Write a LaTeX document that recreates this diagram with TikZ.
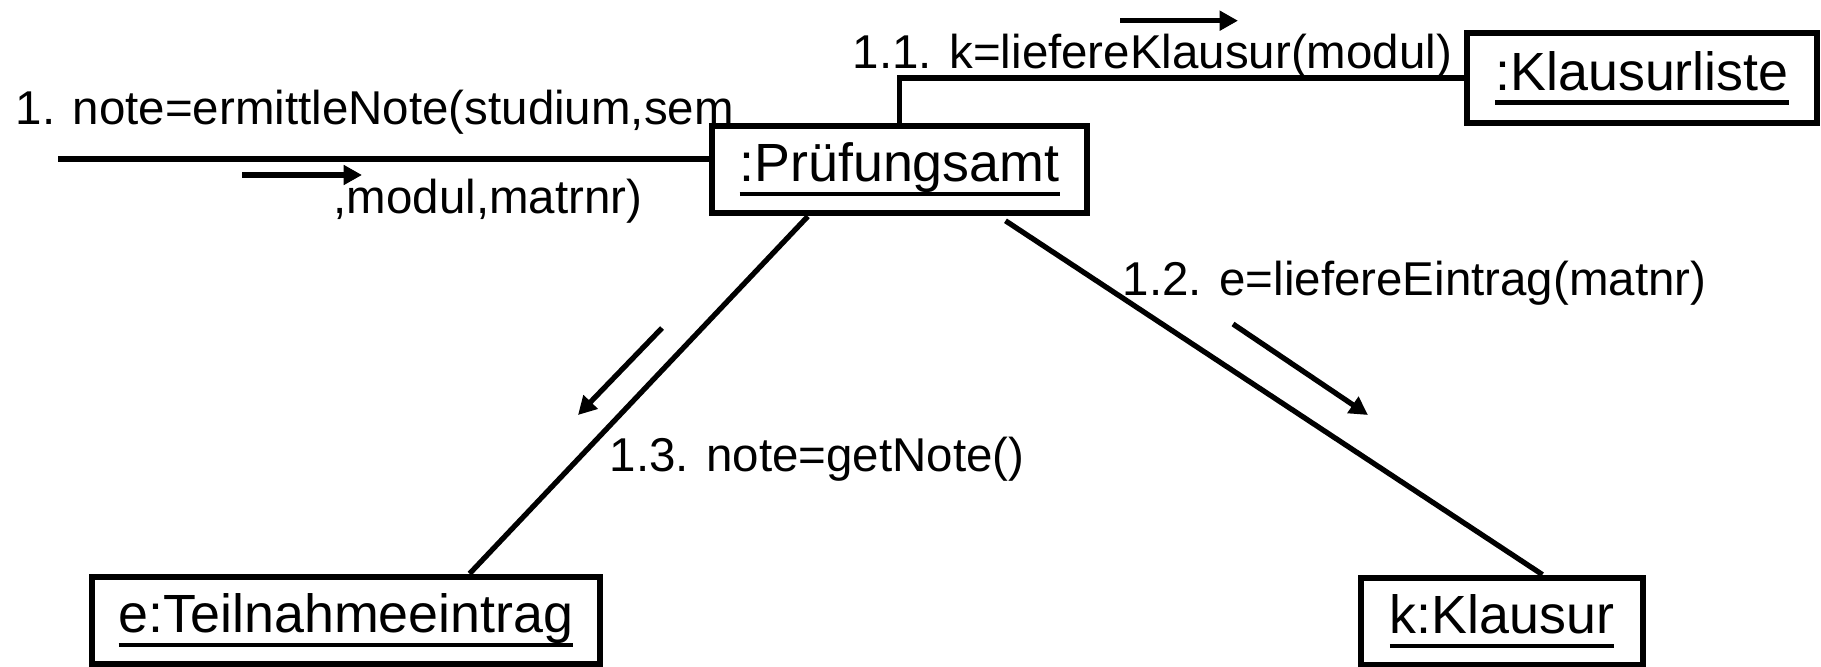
\documentclass[tikz,border=0pt]{standalone}
\usepackage{fontspec}
\setmainfont{Liberation Sans}
\usetikzlibrary{arrows.meta,calc}

% underlined object name, rule at a fixed depth below the baseline
\newcommand\objname[1]{\sbox0{#1}\rlap{\rule[-4.2pt]{\wd0}{1.3pt}}\raisebox{0pt}[\ht0][4.2pt]{\usebox0}}

\begin{document}
\begin{tikzpicture}[x=0.01cm, y=-0.01cm,
    obj/.style={draw, line width=1.9pt, minimum height=0.87cm, inner sep=0pt,
                font=\fontsize{15.3}{18}\selectfont},
    link/.style={line width=1.5pt},
    msg/.style={line width=1.5pt, -{Triangle[length=5.2pt,width=5.4pt]}},
    lbl/.style={inner sep=0pt, anchor=base west, font=\fontsize{13.5}{16}\selectfont}]

\useasboundingbox (0,0) rectangle (1821,667);

% --- objects ----------------------------------------------------------------
\node[obj, minimum width=3.75cm] (pa) at (899.5,169.5) {\objname{:Prüfungsamt}};
\node[obj, minimum width=3.50cm, minimum height=0.90cm] (kl) at (1642,78) {\objname{:Klausurliste}};
\node[obj, minimum width=5.08cm] (te) at (346,620.5) {\objname{e:Teilnahmeeintrag}};
\node[obj, minimum width=2.82cm] (kk) at (1502,621.5) {\objname{k:Klausur}};

% --- links --------------------------------------------------------------------
\coordinate (ext) at (58,159);
\draw[link] (ext) -- (ext -| pa.west);
\draw[link] (pa.north) |- (kl.west);
\draw[link] ($(pa.south west)!0.26!(pa.south east)$) -- ($(te.north west)!0.74!(te.north east)$);
\draw[link, shorten <=0.08cm] ($(pa.south west)!0.76!(pa.south east)$) -- ($(kk.north west)!0.64!(kk.north east)$);

% --- messages -- arrow from/to, then the labels ---------------------------------
\foreach \xa/\ya/\xb/\yb in {242/175/362/175, 1120/20.7/1238/20.7,
    1233/324/1368/415, 662/328/578/415}
  \draw[msg] (\xa,\ya) -- (\xb,\yb);

\node[lbl] (m1)  at (15,125)   {1. note=ermittleNote(studium,sem};
\node[lbl] (m1b) at (333,214)  {,modul,matrnr)};
\node[lbl] (m11) at (852,69)   {1.1. k=liefereKlausur(modul)};
\node[lbl] (m12) at (1122,295) {1.2. e=liefereEintrag(matnr)};
\node[lbl] (m13) at (609,471)  {1.3. note=getNote()};
\end{tikzpicture}
\end{document}
